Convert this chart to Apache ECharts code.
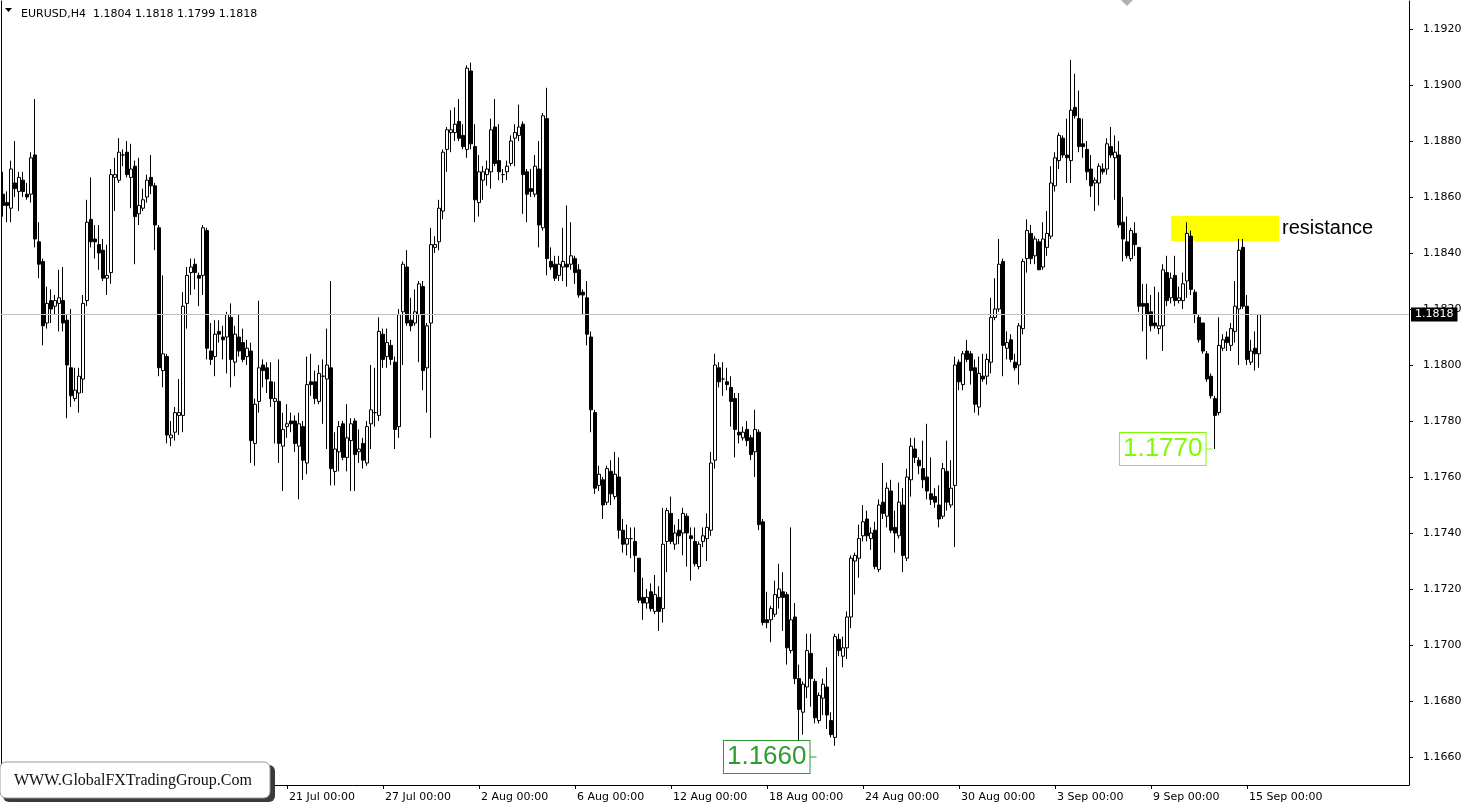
<!DOCTYPE html>
<html>
<head>
<meta charset="utf-8">
<script src="https://cdn.jsdelivr.net/npm/echarts@6/dist/echarts.min.js"></script>
<style>
html,body{margin:0;padding:0;background:#fff;}
#chart{width:1465px;height:808px;}
</style>
</head>
<body>
<div id="chart"></div>
<script>
// ---- Data (EURUSD H4) ----
const opens = [
1.1861,1.1858,1.1856,1.1865,1.1862,1.1866,1.1861,1.1861,1.1875,1.1844,
1.1837,1.1815,1.1823,1.1821,1.1822,1.1823,1.1816,1.1799,1.1788,1.1790,
1.1795,1.1823,1.1852,1.1845,1.1843,1.1841,1.1831,1.1833,1.1867,1.1866,
1.1875,1.1876,1.1867,1.1871,1.1854,1.1856,1.1860,1.1867,1.1864,1.1849,
1.1798,1.1803,1.1774,1.1776,1.1782,1.1782,1.1822,1.1833,1.1836,1.1832,
1.1832,1.1848,1.1805,1.1803,1.1812,1.1810,1.1810,1.1817,1.1801,1.1810,
1.1808,1.1803,1.1805,1.1772,1.1787,1.1800,1.1799,1.1794,1.1787,1.1787,
1.1771,1.1778,1.1780,1.1780,1.1771,1.1778,1.1765,1.1794,1.1794,1.1787,
1.1796,1.1795,1.1799,1.1762,1.1769,1.1779,1.1767,1.1773,1.1780,1.1769,
1.1772,1.1765,1.1779,1.1783,1.1782,1.1811,1.1803,1.1807,1.1801,1.1778,
1.1819,1.1835,1.1816,1.1815,1.1818,1.1828,1.1799,1.1815,1.1842,1.1844,
1.1855,1.1877,1.1883,1.1883,1.1887,1.1882,1.1877,1.1905,1.1878,1.1858,
1.1866,1.1868,1.1869,1.1885,1.1873,1.1868,1.1869,1.1872,1.1881,1.1882,
1.1886,1.1869,1.1863,1.1861,1.1870,1.1849,1.1888,1.1837,1.1836,1.1832,
1.1835,1.1836,1.1836,1.1838,1.1834,1.1826,1.1824,1.1810,1.1783,1.1757,
1.1759,1.1751,1.1762,1.1753,1.1760,1.1741,1.1736,1.1738,1.1737,1.1731,
1.1717,1.1715,1.1719,1.1712,1.1717,1.1713,1.1737,1.1747,1.1736,1.1741,
1.1740,1.1746,1.1739,1.1737,1.1728,1.1737,1.1738,1.1741,1.1766,1.1799,
1.1795,1.1794,1.1792,1.1788,1.1776,1.1774,1.1777,1.1774,1.1769,1.1776,
1.1744,1.1709,1.1709,1.1711,1.1717,1.1719,1.1718,1.1698,1.1710,1.1688,
1.1676,1.1685,1.1697,1.1687,1.1673,1.1681,1.1685,1.1673,1.1667,1.1702,
1.1696,1.1699,1.1710,1.1730,1.1731,1.1739,1.1745,1.1738,1.1741,1.1727,
1.1751,1.1746,1.1755,1.1742,1.1739,1.1750,1.1731,1.1759,1.1770,1.1766,
1.1763,1.1760,1.1754,1.1753,1.1750,1.1746,1.1762,1.1750,1.1757,1.1801,
1.1793,1.1805,1.1804,1.1799,1.1785,1.1796,1.1796,1.1801,1.1817,1.1820,
1.1837,1.1806,1.1809,1.1801,1.1800,1.1813,1.1838,1.1847,1.1839,1.1844,
1.1835,1.1842,1.1846,1.1864,1.1873,1.1881,1.1875,1.1873,1.1892,1.1888,
1.1879,1.1877,1.1870,1.1865,1.1865,1.1870,1.1870,1.1878,1.1874,1.1875,
1.1851,1.1844,1.1838,1.1847,1.1842,1.1822,1.1822,1.1819,1.1815,1.1813,
1.1814,1.1833,1.1824,1.1832,1.1823,1.1823,1.1830,1.1846,1.1826,1.1817,
1.1815,1.1804,1.1796,1.1788,1.1783,1.1806,1.1810,1.1807,1.1812,1.1820,
1.1842,1.1821,1.1801,1.1806,1.1804
];
const highs = [
1.1869,1.1862,1.1873,1.1880,1.1869,1.1869,1.1865,1.1876,1.1895,1.1851,
1.1838,1.1828,1.1827,1.1825,1.1834,1.1835,1.1818,1.1820,1.1799,1.1799,
1.1825,1.1859,1.1867,1.1850,1.1850,1.1845,1.1843,1.1870,1.1874,1.1881,
1.1877,1.1880,1.1879,1.1873,1.1874,1.1863,1.1868,1.1875,1.1865,1.1850,
1.1832,1.1804,1.1780,1.1785,1.1795,1.1826,1.1835,1.1838,1.1838,1.1833,
1.1850,1.1849,1.1815,1.1816,1.1816,1.1814,1.1819,1.1822,1.1814,1.1818,
1.1813,1.1809,1.1808,1.1788,1.1823,1.1802,1.1801,1.1801,1.1794,1.1802,
1.1783,1.1786,1.1783,1.1782,1.1783,1.1780,1.1803,1.1804,1.1798,1.1800,
1.1802,1.1813,1.1830,1.1776,1.1780,1.1780,1.1786,1.1781,1.1781,1.1777,
1.1774,1.1780,1.1800,1.1799,1.1817,1.1813,1.1813,1.1809,1.1803,1.1820,
1.1837,1.1841,1.1824,1.1827,1.1830,1.1830,1.1815,1.1849,1.1846,1.1859,
1.1877,1.1885,1.1891,1.1892,1.1895,1.1886,1.1907,1.1908,1.1886,1.1875,
1.1871,1.1873,1.1888,1.1895,1.1886,1.1870,1.1873,1.1882,1.1886,1.1893,
1.1887,1.1870,1.1870,1.1875,1.1880,1.1890,1.1899,1.1842,1.1839,1.1839,
1.1849,1.1857,1.1851,1.1839,1.1836,1.1827,1.1830,1.1812,1.1784,1.1764,
1.1760,1.1764,1.1766,1.1769,1.1767,1.1745,1.1743,1.1742,1.1742,1.1731,
1.1724,1.1720,1.1722,1.1725,1.1721,1.1749,1.1749,1.1753,1.1743,1.1745,
1.1749,1.1747,1.1742,1.1742,1.1737,1.1742,1.1747,1.1769,1.1804,1.1801,
1.1801,1.1799,1.1796,1.1790,1.1790,1.1778,1.1780,1.1775,1.1784,1.1777,
1.1745,1.1719,1.1714,1.1723,1.1729,1.1726,1.1719,1.1742,1.1715,1.1693,
1.1687,1.1704,1.1704,1.1688,1.1683,1.1688,1.1692,1.1676,1.1704,1.1704,
1.1703,1.1712,1.1732,1.1733,1.1743,1.1750,1.1748,1.1742,1.1744,1.1752,
1.1765,1.1758,1.1759,1.1748,1.1758,1.1756,1.1763,1.1774,1.1774,1.1767,
1.1773,1.1779,1.1767,1.1756,1.1757,1.1765,1.1773,1.1766,1.1803,1.1802,
1.1805,1.1809,1.1805,1.1802,1.1803,1.1804,1.1804,1.1824,1.1831,1.1845,
1.1838,1.1812,1.1811,1.1804,1.1815,1.1838,1.1852,1.1850,1.1846,1.1845,
1.1851,1.1855,1.1871,1.1876,1.1883,1.1882,1.1888,1.1909,1.1904,1.1898,
1.1888,1.1880,1.1875,1.1867,1.1872,1.1872,1.1881,1.1885,1.1882,1.1880,
1.1860,1.1853,1.1849,1.1851,1.1842,1.1829,1.1829,1.1825,1.1828,1.1826,
1.1836,1.1839,1.1833,1.1839,1.1828,1.1833,1.1851,1.1848,1.1827,1.1818,
1.1815,1.1805,1.1797,1.1789,1.1817,1.1811,1.1812,1.1815,1.1830,1.1845,
1.1845,1.1825,1.1809,1.1812,1.1818
];
const lows = [
1.1853,1.1851,1.1851,1.1860,1.1855,1.1860,1.1859,1.1858,1.1842,1.1831,
1.1807,1.1813,1.1815,1.1818,1.1812,1.1812,1.1781,1.1785,1.1787,1.1783,
1.1790,1.1821,1.1842,1.1838,1.1834,1.1830,1.1825,1.1829,1.1855,1.1865,
1.1871,1.1867,1.1856,1.1836,1.1850,1.1855,1.1858,1.1861,1.1841,1.1796,
1.1792,1.1772,1.1771,1.1773,1.1775,1.1776,1.1813,1.1825,1.1827,1.1821,
1.1825,1.1802,1.1800,1.1796,1.1808,1.1802,1.1797,1.1792,1.1796,1.1803,
1.1801,1.1800,1.1765,1.1764,1.1783,1.1792,1.1790,1.1785,1.1772,1.1765,
1.1755,1.1774,1.1776,1.1769,1.1752,1.1759,1.1761,1.1789,1.1786,1.1786,
1.1779,1.1770,1.1757,1.1757,1.1762,1.1766,1.1762,1.1755,1.1755,1.1765,
1.1763,1.1764,1.1770,1.1778,1.1780,1.1799,1.1799,1.1800,1.1770,1.1774,
1.1800,1.1814,1.1812,1.1814,1.1801,1.1791,1.1783,1.1774,1.1840,1.1841,
1.1852,1.1869,1.1876,1.1880,1.1880,1.1877,1.1874,1.1877,1.1851,1.1853,
1.1859,1.1864,1.1863,1.1871,1.1866,1.1865,1.1866,1.1871,1.1871,1.1880,
1.1854,1.1851,1.1860,1.1860,1.1842,1.1848,1.1832,1.1834,1.1830,1.1830,
1.1830,1.1828,1.1834,1.1829,1.1824,1.1818,1.1807,1.1776,1.1754,1.1755,
1.1745,1.1750,1.1750,1.1752,1.1738,1.1733,1.1732,1.1731,1.1726,1.1715,
1.1709,1.1713,1.1712,1.1711,1.1705,1.1708,1.1726,1.1736,1.1734,1.1736,
1.1732,1.1728,1.1723,1.1728,1.1727,1.1735,1.1730,1.1739,1.1763,1.1792,
1.1789,1.1791,1.1778,1.1767,1.1772,1.1773,1.1771,1.1766,1.1760,1.1741,
1.1707,1.1706,1.1701,1.1710,1.1713,1.1705,1.1693,1.1697,1.1686,1.1665,
1.1668,1.1681,1.1678,1.1672,1.1672,1.1675,1.1670,1.1667,1.1664,1.1696,
1.1692,1.1695,1.1706,1.1718,1.1724,1.1737,1.1737,1.1734,1.1727,1.1726,
1.1745,1.1742,1.1740,1.1733,1.1738,1.1726,1.1730,1.1753,1.1765,1.1761,
1.1756,1.1752,1.1750,1.1749,1.1742,1.1745,1.1748,1.1749,1.1735,1.1791,
1.1791,1.1801,1.1793,1.1783,1.1782,1.1794,1.1793,1.1797,1.1816,1.1819,
1.1796,1.1802,1.1801,1.1798,1.1793,1.1811,1.1833,1.1836,1.1836,1.1834,
1.1834,1.1839,1.1845,1.1862,1.1870,1.1874,1.1865,1.1865,1.1888,1.1876,
1.1874,1.1866,1.1860,1.1855,1.1857,1.1868,1.1868,1.1874,1.1859,1.1849,
1.1837,1.1838,1.1837,1.1839,1.1819,1.1812,1.1802,1.1812,1.1813,1.1811,
1.1805,1.1821,1.1822,1.1821,1.1822,1.1820,1.1824,1.1825,1.1815,1.1808,
1.1804,1.1794,1.1788,1.1770,1.1782,1.1805,1.1805,1.1805,1.1808,1.1800,
1.1820,1.1800,1.1800,1.1798,1.1799
];
const closes = [
1.1857,1.1857,1.1870,1.1863,1.1867,1.1862,1.1860,1.1874,1.1845,1.1836,
1.1814,1.1822,1.1820,1.1823,1.1824,1.1815,1.1800,1.1789,1.1791,1.1796,
1.1822,1.1851,1.1844,1.1844,1.1840,1.1831,1.1832,1.1868,1.1868,1.1876,
1.1875,1.1868,1.1870,1.1853,1.1857,1.1859,1.1866,1.1864,1.1850,1.1799,
1.1804,1.1775,1.1775,1.1783,1.1783,1.1821,1.1832,1.1835,1.1833,1.1831,
1.1849,1.1806,1.1802,1.1811,1.1811,1.1809,1.1818,1.1802,1.1811,1.1805,
1.1802,1.1806,1.1773,1.1786,1.1799,1.1798,1.1795,1.1788,1.1788,1.1772,
1.1777,1.1779,1.1779,1.1772,1.1779,1.1766,1.1793,1.1793,1.1788,1.1797,
1.1796,1.1800,1.1763,1.1770,1.1778,1.1767,1.1774,1.1779,1.1768,1.1770,
1.1766,1.1778,1.1784,1.1783,1.1812,1.1802,1.1808,1.1802,1.1777,1.1818,
1.1836,1.1815,1.1814,1.1819,1.1829,1.1798,1.1814,1.1843,1.1843,1.1856,
1.1876,1.1884,1.1884,1.1886,1.1881,1.1878,1.1906,1.1879,1.1859,1.1869,
1.1869,1.1870,1.1884,1.1872,1.1869,1.1868,1.1871,1.1880,1.1883,1.1885,
1.1868,1.1861,1.1862,1.1871,1.1850,1.1889,1.1838,1.1835,1.1831,1.1836,
1.1837,1.1835,1.1839,1.1833,1.1825,1.1825,1.1811,1.1784,1.1756,1.1761,
1.1750,1.1763,1.1754,1.1761,1.1741,1.1736,1.1738,1.1738,1.1732,1.1716,
1.1715,1.1717,1.1713,1.1718,1.1712,1.1736,1.1748,1.1737,1.1740,1.1739,
1.1747,1.1740,1.1738,1.1729,1.1736,1.1739,1.1742,1.1765,1.1800,1.1794,
1.1795,1.1793,1.1787,1.1777,1.1775,1.1776,1.1773,1.1768,1.1777,1.1743,
1.1708,1.1708,1.1713,1.1718,1.1720,1.1717,1.1699,1.1709,1.1688,1.1677,
1.1686,1.1698,1.1688,1.1674,1.1682,1.1686,1.1675,1.1668,1.1703,1.1698,
1.1699,1.1710,1.1731,1.1732,1.1738,1.1744,1.1739,1.1740,1.1728,1.1750,
1.1747,1.1756,1.1741,1.1740,1.1751,1.1732,1.1760,1.1771,1.1767,1.1764,
1.1759,1.1755,1.1752,1.1751,1.1745,1.1763,1.1751,1.1756,1.1800,1.1794,
1.1804,1.1802,1.1798,1.1786,1.1797,1.1795,1.1802,1.1817,1.1820,1.1836,
1.1807,1.1808,1.1802,1.1799,1.1814,1.1837,1.1848,1.1838,1.1845,1.1834,
1.1845,1.1847,1.1865,1.1874,1.1882,1.1875,1.1874,1.1891,1.1889,1.1878,
1.1878,1.1869,1.1864,1.1866,1.1871,1.1869,1.1879,1.1875,1.1876,1.1850,
1.1845,1.1839,1.1848,1.1843,1.1821,1.1821,1.1818,1.1814,1.1814,1.1814,
1.1834,1.1823,1.1831,1.1823,1.1824,1.1829,1.1847,1.1827,1.1818,1.1809,
1.1805,1.1795,1.1789,1.1782,1.1807,1.1809,1.1808,1.1813,1.1821,1.1841,
1.1821,1.1802,1.1805,1.1804,1.1818
];
// time axis labels (bar index -> label)
const tickBars   = [71, 95, 119, 143, 167, 191, 215, 239, 263, 287, 311];
const tickLabels = ['21 Jul 00:00','27 Jul 00:00','2 Aug 00:00','6 Aug 00:00','12 Aug 00:00',
                    '18 Aug 00:00','24 Aug 00:00','30 Aug 00:00','3 Sep 00:00','9 Sep 00:00','15 Sep 00:00'];
const priceTicks = [1.1660,1.1680,1.1700,1.1720,1.1740,1.1760,1.1780,1.1800,1.1820,1.1840,1.1860,1.1880,1.1900,1.1920];
const slotCount = 352;          // bar slots across the chart (right part empty = chart shift)
const bidPrice = 1.1818;
const resistanceZone = {fromBar: 292, toBar: 319, top: 1.18532, bottom: 1.18443, text: 'resistance'};
const priceNotes = [
  {bar: 303, price: 1.1770, text: '1.1770', color: '#7CFC00'},
  {bar: 204, price: 1.1660, text: '1.1660', color: '#2E9B2E'}
];
const header = 'EURUSD,H4  1.1804 1.1818 1.1799 1.1818';

// ---- Chart ----
const slots = Array.from({length: slotCount}, (_, i) => String(i));
const ohlc = opens.map((o, i) => [o, closes[i], lows[i], highs[i]]);

const chart = echarts.init(document.getElementById('chart'), null, {renderer: 'canvas'});
const FONT = 'DejaVu Sans';

chart.setOption({
  animation: false,
  backgroundColor: '#fff',
  title: {
    text: header, left: 16, top: 4,
    textStyle: {fontSize: 11, fontWeight: 'normal', color: '#000', fontFamily: FONT}
  },
  grid: {left: 1, right: 56, top: 1, bottom: 23, containLabel: false},
  xAxis: {
    type: 'category',
    data: slots,
    boundaryGap: true,
    axisLine: {show: true, lineStyle: {color: '#000', width: 1}},
    axisTick: {show: true, alignWithLabel: true, length: 4, lineStyle: {color: '#000'},
               interval: (i) => tickBars.indexOf(i) >= 0},
    axisLabel: {
      show: true, interval: (i) => tickBars.indexOf(i) >= 0,
      formatter: (v, i) => { const k = tickBars.indexOf(Number(v)); return k >= 0 ? tickLabels[k] : ''; },
      align: 'left', margin: 7, color: '#000', fontSize: 11, fontFamily: FONT, padding: [0, 0, 0, 2]
    },
    splitLine: {show: false}
  },
  yAxis: [{
    type: 'value', position: 'right', min: 1.1650, max: 1.1930,
    axisLine: {show: true, lineStyle: {color: '#000'}},
    axisTick: {show: true, length: 4, lineStyle: {color: '#000'}, customValues: priceTicks},
    axisLabel: {show: true, customValues: priceTicks, formatter: (v) => v.toFixed(4),
                color: '#000', fontSize: 11, fontFamily: FONT, margin: 14},
    splitLine: {show: false}
  }, {
    type: 'value', position: 'left', min: 1.1650, max: 1.1930,
    axisLine: {show: true, lineStyle: {color: '#000'}},
    axisTick: {show: false}, axisLabel: {show: false}, splitLine: {show: false}
  }],
  series: [{
    type: 'candlestick',
    yAxisIndex: 0,
    data: ohlc,
    barWidth: 3,
    itemStyle: {color: '#ffffff', color0: '#000000', borderColor: '#000000', borderColor0: '#000000', borderWidth: 1},
    markLine: {
      silent: true, symbol: ['none', 'none'],
      lineStyle: {color: '#c0c0c0', type: 'solid', width: 1},
      label: {show: true, position: 'end', formatter: bidPrice.toFixed(4), color: '#fff',
              backgroundColor: '#000', padding: [2, 4, 1, 4], fontSize: 11, fontFamily: FONT, distance: 2},
      data: [[{coord: [0, bidPrice], x: 1}, {coord: [slotCount - 1, bidPrice], x: 1409}]]
    },
    markArea: {
      silent: true,
      itemStyle: {color: '#FFFF00', opacity: 1},
      label: {show: true, position: 'right', distance: 3, formatter: resistanceZone.text,
              color: '#000', fontSize: 20, fontFamily: 'Liberation Sans'},
      data: [[{coord: [resistanceZone.fromBar, resistanceZone.top]},
              {coord: [resistanceZone.toBar, resistanceZone.bottom]}]]
    },
    markPoint: {
      silent: true,
      data: priceNotes.map(n => ({
        coord: [n.bar, n.price],
        symbol: 'rect', symbolSize: [7, 1], symbolOffset: [-6, 0],
        itemStyle: {color: n.color},
        label: {show: true, position: 'left', distance: 0, formatter: n.text,
                color: n.color, fontSize: 26, fontFamily: 'Liberation Sans',
                backgroundColor: '#fff', borderColor: n.color, borderWidth: 1,
                padding: [2, 3, 1, 3], lineHeight: 29}
      }))
    }
  }],
  graphic: [
    {type: 'polygon', shape: {points: [[5, 8], [12, 8], [8.5, 12]]}, style: {fill: '#000'}, z: 100},
    {type: 'polygon', shape: {points: [[1121, 0], [1133, 0], [1127, 6]]}, style: {fill: '#b0b0b0'}, z: 100},
    {type: 'rect', shape: {x: 3, y: 765, width: 272, height: 37, r: 6}, style: {fill: '#3a3a3a'}, z: 100},
    {type: 'rect', shape: {x: 0, y: 762, width: 270, height: 36, r: 6}, style: {fill: '#fff', stroke: '#999', lineWidth: 1}, z: 101},
    {type: 'text', x: 14, y: 781, z: 102,
     style: {text: 'WWW.GlobalFXTradingGroup.Com', fill: '#111', font: '16px "Liberation Serif"',
             textVerticalAlign: 'middle', textShadowColor: '#888', textShadowOffsetX: 1, textShadowOffsetY: 1, textShadowBlur: 0}}
  ]
});
</script>
</body>
</html>
